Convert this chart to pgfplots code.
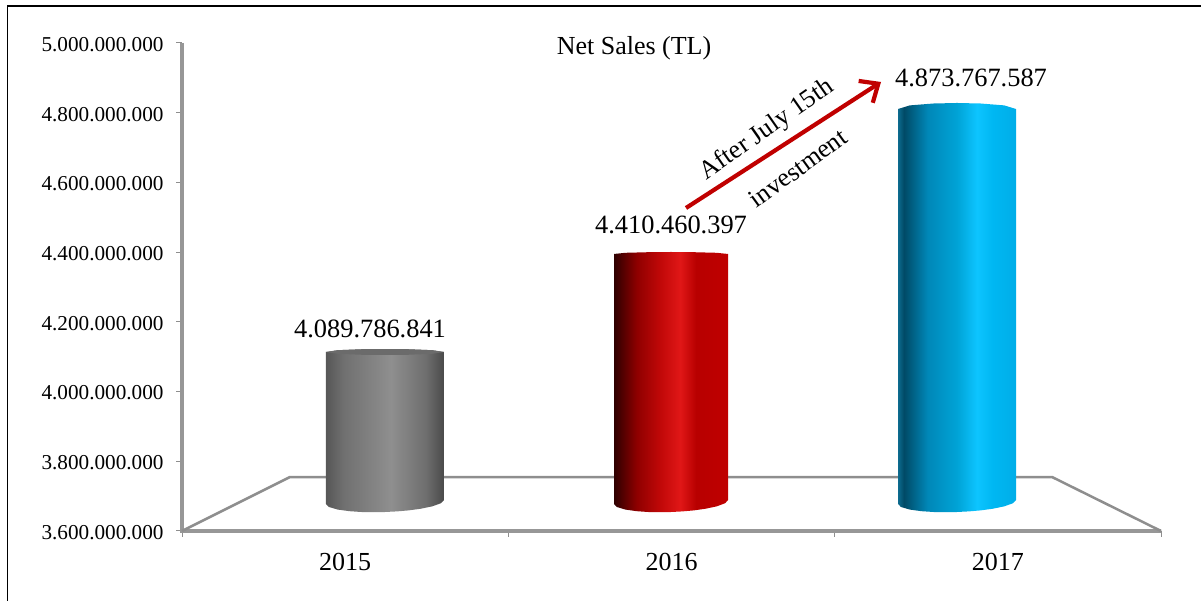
\documentclass[border=0pt]{standalone}
\usepackage{fontspec}
\setmainfont{Liberation Serif}
\usepackage{pgfplots}
\pgfplotsset{compat=1.18}
\usetikzlibrary{arrows.meta}

% the middle 50bp of a shading is what lands on the path's bounding box
\pgfdeclarehorizontalshading{cylgray}{100bp}{
  rgb(0bp)=(0.34,0.34,0.34); rgb(25bp)=(0.34,0.34,0.34); rgb(32.5bp)=(0.44,0.44,0.44);
  rgb(52.5bp)=(0.56,0.56,0.56); rgb(67.5bp)=(0.43,0.43,0.43); rgb(75bp)=(0.29,0.29,0.29); rgb(100bp)=(0.29,0.29,0.29)}
\pgfdeclarehorizontalshading{cylred}{100bp}{
  rgb(0bp)=(0.18,0,0); rgb(25bp)=(0.18,0,0); rgb(35bp)=(0.56,0,0); rgb(45bp)=(0.75,0.03,0.03);
  rgb(54bp)=(0.88,0.09,0.09); rgb(61bp)=(0.72,0,0); rgb(75bp)=(0.75,0,0); rgb(100bp)=(0.75,0,0)}
\pgfdeclarehorizontalshading{cylblue}{100bp}{
  rgb(0bp)=(0.05,0.42,0.56); rgb(25bp)=(0.05,0.42,0.56); rgb(27.5bp)=(0,0.29,0.40); rgb(37.5bp)=(0,0.53,0.72);
  rgb(50bp)=(0,0.64,0.84); rgb(58.5bp)=(0.05,0.77,1); rgb(65bp)=(0,0.72,0.95); rgb(75bp)=(0,0.68,0.91); rgb(100bp)=(0,0.68,0.91)}

\definecolor{axisgray}{HTML}{979797}
\definecolor{floorgray}{HTML}{8E8E8E}
\definecolor{arrowred}{HTML}{C00000}

\begin{document}
\begin{tikzpicture}[x=1pt,y=1pt]
\path[use as bounding box] (0,0) rectangle (1201,601);
\draw[line width=1.5pt,black] (7.5,0) -- (7.5,595) -- (1201,595);

\begin{axis}[
  at={(182pt,70pt)},
  anchor=south west,
  scale only axis,
  width=979pt,
  height=488pt,
  clip=false,
  xmin=-0.5, xmax=2.5,
  ymin=3600000000, ymax=5000000000,
  axis lines=left,
  axis line style={-,draw=axisgray},
  tick style={draw=floorgray,line width=1pt},
  tick align=outside,
  major tick length=6pt,
  xtick={-0.5,0.5,1.5,2.5},
  x tick label as interval,
  xticklabels={2015,2016,2017},
  xticklabel style={font=\fontsize{26}{30}\selectfont,yshift=-13pt},
  ytick={3600000000,3800000000,4000000000,4200000000,4400000000,4600000000,4800000000,5000000000},
  scaled y ticks=false,
  yticklabel style={
    font=\fontsize{21.2}{24}\selectfont,xshift=-9pt,yshift=-1.5pt,
    /pgf/number format/.cd,fixed,precision=0,1000 sep={.},assume math mode=true},
]
% heavier axis lines
\addplot[draw=axisgray,line width=3.4pt] coordinates {(-0.5,5e9) (-0.5,3.6e9) (2.5,3.6e9)};
% floor of the 3D frame
\addplot[draw=floorgray,line width=2.5pt] coordinates {
  (-0.5,3.6e9) (-0.169,3.7549e9) (2.166,3.7549e9) (2.5,3.6e9)};

% 2015
\addplot[draw=none,shade,shading=cylgray] coordinates {
  (-0.0588,4.1135e9) (-0.0226,4.1187e9) (0.0497,4.1214e9) (0.122,4.1221e9) (0.1943,4.1214e9) (0.2666,4.1187e9) (0.3028,4.1135e9)
  (0.3028,3.6889e9) (0.2938,3.6798e9) (0.2666,3.6706e9) (0.2305,3.6637e9) (0.1943,3.6591e9) (0.1582,3.6562e9) (0.122,3.6545e9)
  (0.0858,3.6539e9) (0.0497,3.6545e9) (0.0135,3.6568e9) (-0.0226,3.6614e9) (-0.0498,3.6689e9) (-0.0588,3.6775e9)};
\addplot[draw=none,fill=black!58] coordinates {
  (-0.0588,4.1135e9) (-0.0226,4.1187e9) (0.0497,4.1214e9) (0.122,4.1221e9) (0.1943,4.1214e9) (0.2666,4.1187e9) (0.3028,4.1135e9)
  (0.2666,4.1084e9) (0.1943,4.1056e9) (0.122,4.1049e9) (0.0497,4.1056e9) (-0.0226,4.1084e9)};

% 2016
\addplot[draw=none,shade,shading=cylred] coordinates {
  (0.8238,4.3947e9) (0.8588,4.3981e9) (0.9286,4.3998e9) (0.9985,4.4004e9) (1.0684,4.3998e9) (1.1383,4.3981e9) (1.1732,4.3947e9)
  (1.1732,3.6889e9) (1.1645,3.6798e9) (1.1383,3.6706e9) (1.1033,3.6637e9) (1.0684,3.6591e9) (1.0334,3.6562e9) (0.9985,3.6545e9)
  (0.9636,3.6539e9) (0.9286,3.6545e9) (0.8937,3.6568e9) (0.8588,3.6614e9) (0.8325,3.6689e9) (0.8238,3.6775e9)};

% 2017
\addplot[draw=none,shade,shading=cylblue] coordinates {
  (1.6941,4.8106e9) (1.7303,4.821e9) (1.8026,4.8264e9) (1.8749,4.8279e9) (1.9472,4.8264e9) (2.0195,4.821e9) (2.0557,4.8106e9)
  (2.0557,3.6889e9) (2.0467,3.6798e9) (2.0195,3.6706e9) (1.9834,3.6637e9) (1.9472,3.6591e9) (1.9111,3.6562e9) (1.8749,3.6545e9)
  (1.8387,3.6539e9) (1.8026,3.6545e9) (1.7664,3.6568e9) (1.7303,3.6614e9) (1.7031,3.6689e9) (1.6941,3.6775e9)};
\end{axis}

\node[font=\fontsize{26}{30}\selectfont] at (634,553) {Net Sales (TL)};
\node[font=\fontsize{26.4}{30}\selectfont] at (370,272) {4.089.786.841};
\node[font=\fontsize{26.4}{30}\selectfont] at (671,376) {4.410.460.397};
\node[font=\fontsize{26.4}{30}\selectfont] at (971,523) {4.873.767.587};
\draw[arrowred,line width=4.2pt,-{Straight Barb[length=15pt,width=26pt,line width=4.2pt]}] (686,393) -- (881,519);
\node[font=\fontsize{26}{30}\selectfont,rotate=35] at (767,471) {After July 15th};
\node[font=\fontsize{26}{30}\selectfont,rotate=36] at (798,433) {investment};
\end{tikzpicture}
\end{document}
